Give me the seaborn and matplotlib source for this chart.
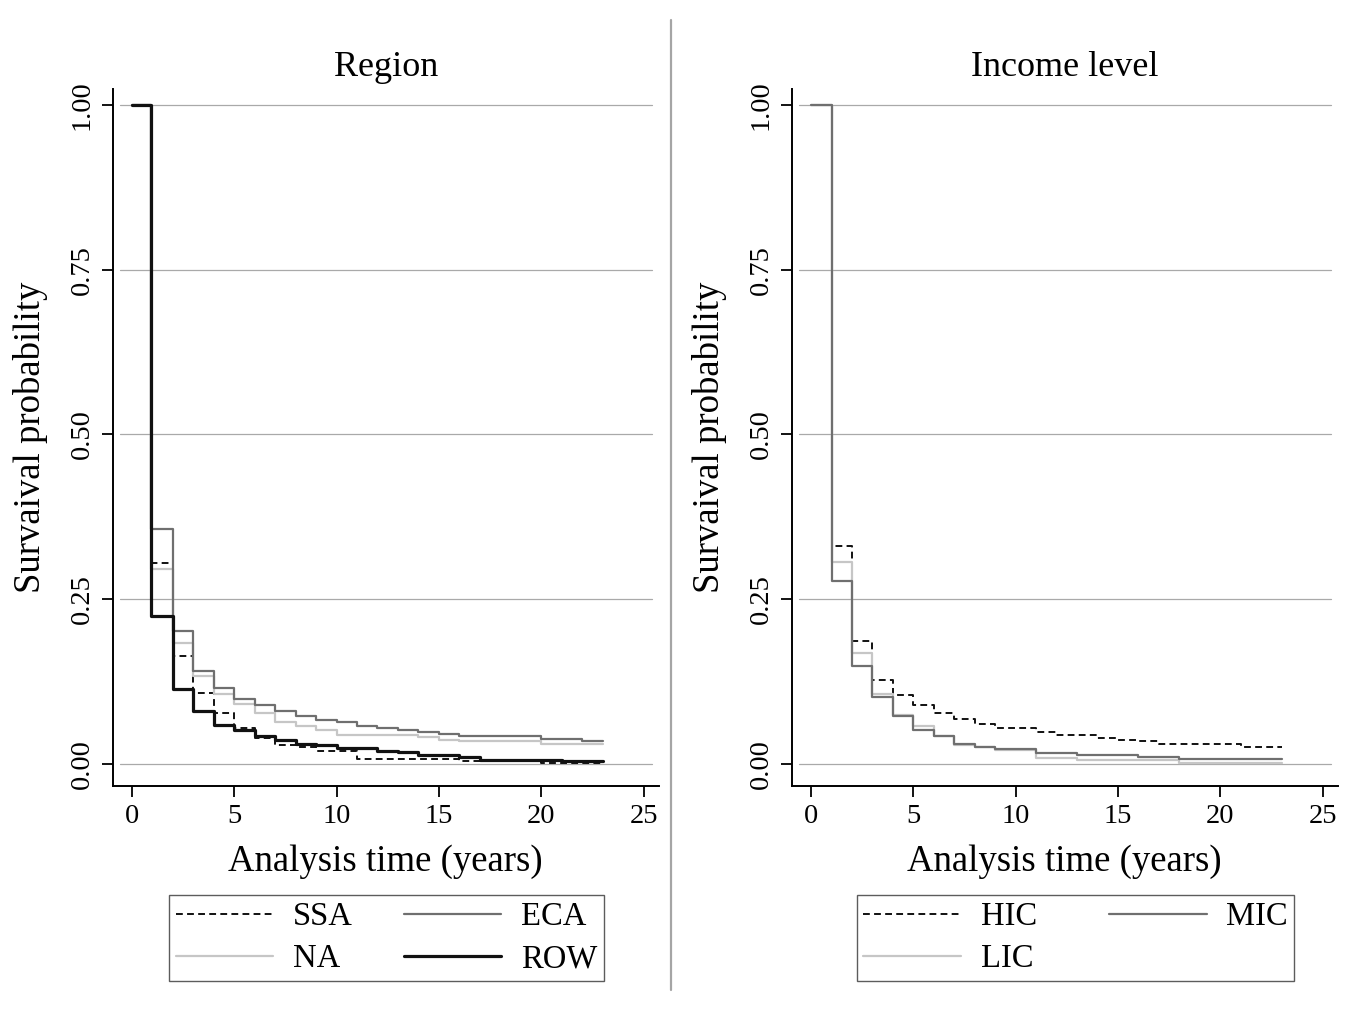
import numpy as np
import pandas as pd
import matplotlib
matplotlib.use("Agg")
import matplotlib.pyplot as plt
from matplotlib.lines import Line2D
import seaborn as sns

# ---------------- data ----------------
region_time = [0, 0.93, 2, 3, 4, 5, 6, 7, 8, 9, 10, 11, 12, 13, 14, 15, 16, 17, 18, 19, 20, 21, 22, 23]
ssa = [1.0, 0.305, 0.164, 0.107, 0.078, 0.055, 0.039, 0.029, 0.026, 0.020, 0.020, 0.007,
       0.007, 0.007, 0.007, 0.007, 0.005, 0.005, 0.005, 0.005, 0.002, 0.002, 0.002, 0.002]
na = [1.0, 0.296, 0.183, 0.133, 0.106, 0.091, 0.078, 0.063, 0.057, 0.051, 0.044, 0.044,
      0.044, 0.044, 0.041, 0.037, 0.035, 0.035, 0.035, 0.035, 0.031, 0.031, 0.031, 0.031]
eca = [1.0, 0.356, 0.202, 0.141, 0.116, 0.099, 0.090, 0.080, 0.073, 0.066, 0.063, 0.058,
       0.054, 0.051, 0.048, 0.045, 0.042, 0.042, 0.042, 0.042, 0.038, 0.038, 0.035, 0.035]
row = [1.0, 0.225, 0.114, 0.081, 0.059, 0.052, 0.042, 0.037, 0.031, 0.029, 0.025, 0.024,
       0.020, 0.018, 0.014, 0.014, 0.010, 0.006, 0.006, 0.006, 0.006, 0.005, 0.005, 0.005]

income_time = [0, 1.05, 2, 3, 4, 5, 6, 7, 8, 9, 10, 11, 12, 13, 14, 15, 16, 17, 18, 19, 20, 21, 22, 23]
hic = [1.0, 0.331, 0.186, 0.128, 0.105, 0.089, 0.078, 0.069, 0.061, 0.054, 0.054, 0.049,
       0.044, 0.044, 0.040, 0.037, 0.035, 0.031, 0.031, 0.031, 0.031, 0.026, 0.026, 0.026]
mic = [1.0, 0.277, 0.149, 0.102, 0.073, 0.052, 0.043, 0.030, 0.026, 0.022, 0.022, 0.016,
       0.016, 0.014, 0.014, 0.014, 0.010, 0.010, 0.007, 0.007, 0.007, 0.007, 0.007, 0.007]
lic = [1.0, 0.307, 0.168, 0.106, 0.074, 0.057, 0.042, 0.029, 0.026, 0.021, 0.021, 0.009,
       0.009, 0.006, 0.006, 0.006, 0.006, 0.006, 0.002, 0.002, 0.002, 0.002, 0.002, 0.002]

y_ticks = [0.0, 0.25, 0.5, 0.75, 1.0]
y_ticklabels = ["0.00", "0.25", "0.50", "0.75", "1.00"]
x_ticks = [0, 5, 10, 15, 20, 25]

# ---------------- style ----------------
sns.set_style("ticks")
plt.rcParams["font.family"] = ["Liberation Serif", "DejaVu Serif"]
plt.rcParams["axes.linewidth"] = 1.4
plt.rcParams["text.color"] = "black"
plt.rcParams["axes.labelcolor"] = "black"
plt.rcParams["xtick.color"] = "black"
plt.rcParams["ytick.color"] = "black"
plt.rcParams["axes.edgecolor"] = "black"

DARK = "#6f6f6f"
LIGHT = "#c6c6c6"
BLACK = "#111111"
DASH = (0, (3.5, 2.2))

region_series = [
    ("SSA", ssa, dict(color=BLACK, linestyle=DASH, linewidth=1.4)),
    ("NA", na, dict(color=LIGHT, linestyle="-", linewidth=1.6)),
    ("ECA", eca, dict(color=DARK, linestyle="-", linewidth=1.6)),
    ("ROW", row, dict(color=BLACK, linestyle="-", linewidth=2.3)),
]
income_series = [
    ("HIC", hic, dict(color=BLACK, linestyle=DASH, linewidth=1.4)),
    ("LIC", lic, dict(color=LIGHT, linestyle="-", linewidth=1.6)),
    ("MIC", mic, dict(color=DARK, linestyle="-", linewidth=1.6)),
]

fig = plt.figure(figsize=(13.58, 10.18), dpi=100)
W, H = 1358.0, 1018.0
ax1 = fig.add_axes([113 / W, 232 / H, 545.5 / W, 697 / H])
ax2 = fig.add_axes([792 / W, 232 / H, 545.5 / W, 697 / H])

def draw(ax, times, series, title, legend_cx, colspace):
    for name, vals, kw in series:
        df = pd.DataFrame({"time": times, "survival": vals})
        sns.lineplot(data=df, x="time", y="survival", ax=ax, estimator=None,
                     drawstyle="steps-post", label=name, zorder=3, **kw)
    for yv in y_ticks:
        ax.axhline(yv, xmin=0.013, xmax=0.989, color="#a9a9a9", linewidth=0.9, zorder=1)
    ax.set_xlim(-0.923, 25.73)
    ax.set_ylim(-0.0334, 1.024)
    ax.set_xticks(x_ticks)
    ax.set_xticklabels([str(v) for v in x_ticks], fontsize=20.5)
    ax.set_yticks(y_ticks)
    ax.set_yticklabels(y_ticklabels, rotation=90, va="center", fontsize=20.5)
    ax.tick_params(direction="out", length=8, width=1.3, color="black", labelcolor="black", pad=5)
    for s in ["top", "right"]:
        ax.spines[s].set_visible(False)
    for s in ["left", "bottom"]:
        ax.spines[s].set_color("black")
    ax.set_xlabel("Analysis time (years)", fontsize=26.5, labelpad=11, color="black")
    ax.set_ylabel("Survaival probability", fontsize=26.5, labelpad=16, color="black")
    ax.set_title(title, fontsize=26, pad=9, color="black")
    handles, labels = ax.get_legend_handles_labels()
    leg = ax.legend(handles, labels, ncol=2, loc="center",
                    bbox_to_anchor=(legend_cx, 1 - 938 / H), bbox_transform=fig.transFigure,
                    fontsize=23.5, handlelength=3.0, handletextpad=0.6, columnspacing=colspace,
                    labelspacing=0.36, borderpad=0.2, frameon=True, fancybox=False,
                    edgecolor="#333333")
    leg.get_frame().set_linewidth(1.0)
    for t in leg.get_texts():
        t.set_color("black")

draw(ax1, region_time, region_series, "Region", 386.5 / W, 1.55)
draw(ax2, income_time, income_series, "Income level", 1075.5 / W, 2.2)

fig.add_artist(Line2D([670.7 / W, 670.7 / W], [1 - 20 / H, 1 - 990 / H],
                      transform=fig.transFigure, color="#a5a5a5", linewidth=1.6))

fig.savefig("out.png", dpi=100, facecolor="white")
